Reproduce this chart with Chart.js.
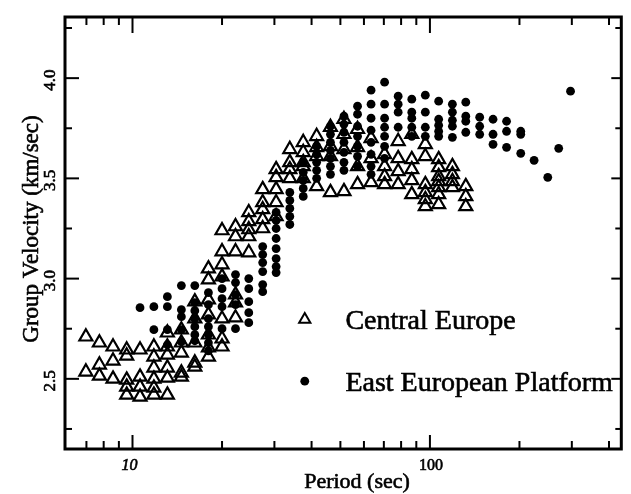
<!DOCTYPE html>
<html>
<head>
<meta charset="utf-8">
<script src="https://cdn.jsdelivr.net/npm/chart.js@4.4.1/dist/chart.umd.min.js"></script>
<style>
  html, body { margin: 0; padding: 0; background: #fff; }
</style>
</head>
<body>
<canvas id="chart" width="631" height="494"></canvas>
<script>
// Periods (sec) of the measurement columns, Central Europe
const cePeriods = [6.97, 7.74, 8.6, 9.56, 10.6, 11.8, 13.1, 14.6, 16.2, 18.0, 20.0, 22.2, 24.6, 27.4,
    30.4, 33.8, 37.5, 41.6, 46.3, 51.4, 57.1, 63.4, 70.4, 78.2, 86.9, 96.5, 107, 119, 132];
// group velocities (km/sec) measured at each of those periods
const ceVelocities = [
    [2.71, 2.535],
    [2.68, 2.57, 2.515],
    [2.66, 2.59, 2.5],
    [2.645, 2.615, 2.495, 2.46, 2.42],
    [2.645, 2.51, 2.46, 2.41],
    [2.66, 2.61, 2.555, 2.5, 2.455, 2.42],
    [2.73, 2.66, 2.62, 2.555, 2.505, 2.42],
    [2.745, 2.68, 2.63, 2.53, 2.51],
    [2.885, 2.8, 2.68, 2.58, 2.56],
    [3.05, 2.995, 2.895, 2.82, 2.72, 2.655, 2.61],
    [3.24, 3.135, 3.07, 3.01, 2.8, 2.7, 2.66],
    [3.26, 3.21, 3.135, 2.92, 2.88, 2.805],
    [3.33, 3.285, 3.245, 3.21, 3.13],
    [3.445, 3.38, 3.345, 3.295, 3.25],
    [3.545, 3.505, 3.445, 3.38, 3.31],
    [3.645, 3.58, 3.545, 3.5],
    [3.68, 3.63, 3.58, 3.56, 3.5],
    [3.71, 3.655, 3.61, 3.46],
    [3.755, 3.66, 3.61, 3.43],
    [3.795, 3.72, 3.645, 3.435],
    [3.745, 3.655, 3.56, 3.47],
    [3.7, 3.6, 3.48],
    [3.62, 3.56, 3.51, 3.47],
    [3.685, 3.6, 3.535, 3.47],
    [3.72, 3.595, 3.545, 3.49, 3.42],
    [3.67, 3.61, 3.47, 3.43, 3.395, 3.36],
    [3.595, 3.555, 3.51, 3.485, 3.455, 3.42, 3.37],
    [3.56, 3.52, 3.485, 3.455],
    [3.46, 3.41, 3.36]
];

// East European Platform
const epPeriods = [10.6, 11.8, 13.1, 14.6, 16.2, 18.0, 20.0, 22.2, 24.6, 27.4, 30.4, 33.8, 37.5,
    41.6, 46.3, 51.4, 57.1, 63.4, 70.4, 78.2, 86.9, 96.5, 107, 119, 132, 147, 163, 181, 202,
    224, 249, 271, 297];
const epVelocities = [
    [2.855],
    [2.86, 2.745],
    [2.91, 2.86, 2.745, 2.67],
    [2.965, 2.845, 2.81, 2.745, 2.685],
    [2.965, 2.88, 2.84, 2.8, 2.76, 2.72, 2.69],
    [2.93, 2.87, 2.8, 2.76, 2.72, 2.68, 2.64],
    [3.0, 2.95, 2.9, 2.86, 2.75],
    [3.02, 2.98, 2.92, 2.87, 2.75],
    [3.0, 2.95, 2.885, 2.83, 2.78],
    [3.16, 3.12, 3.08, 3.035, 2.97, 2.935],
    [3.33, 3.29, 3.25, 3.2, 3.15, 3.1, 3.06, 3.03],
    [3.43, 3.39, 3.35, 3.31, 3.27],
    [3.58, 3.53, 3.49, 3.45, 3.41],
    [3.66, 3.62, 3.58, 3.54, 3.5],
    [3.76, 3.72, 3.68, 3.64, 3.6, 3.56, 3.52],
    [3.81, 3.77, 3.73, 3.68, 3.63, 3.58, 3.54],
    [3.86, 3.82, 3.76, 3.71, 3.66, 3.61, 3.56],
    [3.94, 3.87, 3.8, 3.74, 3.68, 3.62, 3.56, 3.52],
    [3.98, 3.87, 3.8, 3.755, 3.71, 3.66, 3.6],
    [3.91, 3.87, 3.83, 3.755],
    [3.895, 3.83, 3.8, 3.755, 3.71],
    [3.915, 3.83, 3.755, 3.71],
    [3.885, 3.795, 3.765, 3.735, 3.71],
    [3.87, 3.83, 3.79, 3.76, 3.705],
    [3.88, 3.81, 3.785, 3.73],
    [3.805, 3.76, 3.72],
    [3.795, 3.72, 3.67],
    [3.785, 3.735, 3.655],
    [3.735, 3.72, 3.625],
    [3.59],
    [3.505],
    [3.65],
    [3.935]
];

const xMajorTicks = [10, 100];
const xTickLabels = ['10', '100'];
const xMinorTicks = [7, 8, 9, 20, 30, 40, 50, 60, 70, 80, 90, 200, 300, 400];
const yMajorTicks = [2.5, 3.0, 3.5, 4.0];
const yTickLabels = ['2.5', '3.0', '3.5', '4.0'];
const yMinorTicks = [2.25, 2.75, 3.25, 3.75, 4.25];

const serif = "'Liberation Serif', 'Times New Roman', serif";

function toPoints(periods, velocities) {
    const pts = [];
    periods.forEach((p, i) => {
        velocities[i].forEach(v => pts.push({x: p, y: v}));
    });
    return pts;
}

// scanned print looks a bit heavier than plain canvas text
function inkText(ctx, text, x, y) {
    ctx.fillText(text, x, y);
    ctx.lineWidth = 0.6;
    ctx.strokeText(text, x, y);
}

function drawMarker(ctx, style, x, y, r) {
    ctx.beginPath();
    if (style === 'triangle') {
        ctx.moveTo(x, y - r);
        ctx.lineTo(x + Math.sin(2 * Math.PI / 3) * r, y + r / 2);
        ctx.lineTo(x - Math.sin(2 * Math.PI / 3) * r, y + r / 2);
        ctx.closePath();
        ctx.lineWidth = 2;
        ctx.stroke();
    } else {
        ctx.arc(x, y, r, 0, Math.PI * 2);
        ctx.fill();
    }
}

// frame, inward ticks, tick labels and axis titles
const axesPlugin = {
    id: 'axesPlugin',
    afterDatasetsDraw(chart) {
        const {ctx, chartArea: a, scales: {x, y}} = chart;
        ctx.save();
        ctx.strokeStyle = '#000';
        ctx.fillStyle = '#000';

        const seg = (x1, y1, x2, y2) => {
            ctx.beginPath();
            ctx.moveTo(x1, y1);
            ctx.lineTo(x2, y2);
            ctx.stroke();
        };

        ctx.lineWidth = 2;
        xMinorTicks.forEach(v => {
            const px = x.getPixelForValue(v);
            seg(px, a.bottom, px, a.bottom - 8);
            seg(px, a.top, px, a.top + 8);
        });
        xMajorTicks.forEach(v => {
            const px = x.getPixelForValue(v);
            seg(px, a.bottom, px, a.bottom - 14);
            seg(px, a.top, px, a.top + 16);
        });
        yMinorTicks.forEach(v => {
            const py = y.getPixelForValue(v);
            seg(a.left, py, a.left + 7, py);
            seg(a.right, py, a.right - 6, py);
        });
        yMajorTicks.forEach(v => {
            const py = y.getPixelForValue(v);
            seg(a.left, py, a.left + 14, py);
            seg(a.right, py, a.right - 10, py);
        });

        ctx.lineWidth = 3;
        ctx.strokeRect(a.left, a.top, a.right - a.left, a.bottom - a.top);

        // x tick labels
        ctx.textAlign = 'center';
        ctx.textBaseline = 'alphabetic';
        xMajorTicks.forEach((v, i) => {
            ctx.font = (i === 0 ? 'italic ' : '') + '16px ' + serif;
            inkText(ctx, xTickLabels[i], x.getPixelForValue(v) - (i === 0 ? 3 : -1), a.bottom + 21);
        });

        // y tick labels, rotated
        ctx.font = '17px ' + serif;
        yMajorTicks.forEach((v, i) => {
            ctx.save();
            ctx.translate(a.left - 10, y.getPixelForValue(v) + 2);
            ctx.rotate(-Math.PI / 2);
            inkText(ctx, yTickLabels[i], 0, 0);
            ctx.restore();
        });

        // axis titles
        ctx.font = '22px ' + serif;
        inkText(ctx, 'Period (sec)', 357, a.bottom + 39);
        ctx.save();
        ctx.font = '23px ' + serif;
        ctx.translate(38, 229);
        ctx.rotate(-Math.PI / 2);
        inkText(ctx, 'Group Velocity (km/sec)', 0, 0);
        ctx.restore();

        // legend inside the plot
        ctx.textAlign = 'left';
        ctx.font = '28px ' + serif;
        const w = a.right - a.left, h = a.bottom - a.top;
        const rows = [
            {fy: 0.70, r: 6.5},
            {fy: 0.843, r: 4.4}
        ];
        chart.data.datasets.forEach((ds, i) => {
            const cy = a.top + rows[i].fy * h;
            drawMarker(ctx, ds.pointStyle, a.left + 0.431 * w, cy, rows[i].r);
            inkText(ctx, ds.label, a.left + 0.504 * w, cy + 10);
        });
        ctx.restore();
    }
};

new Chart(document.getElementById('chart'), {
    type: 'scatter',
    data: {
        datasets: [
            {
                label: 'Central Europe',
                data: toPoints(cePeriods, ceVelocities),
                pointStyle: 'triangle',
                pointRadius: 7.5,
                pointHoverRadius: 7.5,
                borderWidth: 2.2,
                borderColor: '#000',
                backgroundColor: 'rgba(0,0,0,0)'
            },
            {
                label: 'East European Platform',
                data: toPoints(epPeriods, epVelocities),
                pointStyle: 'circle',
                pointRadius: 4.4,
                pointHoverRadius: 4.4,
                borderWidth: 0,
                borderColor: '#000',
                backgroundColor: '#000'
            }
        ]
    },
    options: {
        responsive: false,
        animation: false,
        devicePixelRatio: 1,
        layout: {padding: {left: 65, right: 5, top: 17, bottom: 45}},
        plugins: {
            legend: {display: false},
            tooltip: {enabled: false}
        },
        scales: {
            x: {type: 'logarithmic', min: 5.93, max: 440, display: false},
            y: {type: 'linear', min: 2.15, max: 4.305, display: false}
        }
    },
    plugins: [axesPlugin]
});
</script>
</body>
</html>
